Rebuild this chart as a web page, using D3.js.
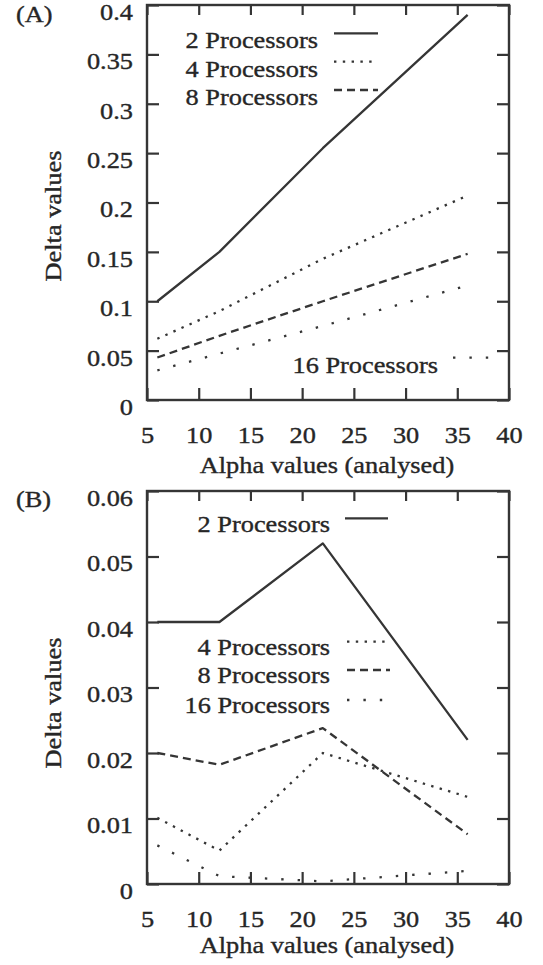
<!DOCTYPE html>
<html><head><meta charset="utf-8">
<script src="https://cdn.jsdelivr.net/npm/d3@7"></script>
<style>
body{margin:0;background:#fff}
text{font-family:"Liberation Serif","DejaVu Serif",serif;font-size:22.5px;fill:#262626;stroke:#262626;stroke-width:0.35px}
</style>
</head><body>
<svg id="c" width="543" height="965"></svg>
<script>
// ---- data ----
const alphaValues = [6, 12, 22, 36];
const seriesNames = ["2 Processors", "4 Processors", "8 Processors", "16 Processors"];
const deltaA_2  = [0.1, 0.15, 0.255, 0.39];
const deltaA_4  = [0.062, 0.09, 0.143, 0.207];
const deltaA_8  = [0.043, 0.065, 0.1, 0.148];
const deltaA_16 = [0.03, 0.047, 0.075, 0.116];
const deltaB_2  = [0.04, 0.04, 0.052, 0.022];
const deltaB_4  = [0.0101, 0.0051, 0.020, 0.0133];
const deltaB_8  = [0.020, 0.0182, 0.0238, 0.0076];
const deltaB_16 = [0.0059, 0.0012, 0.0004, 0.002];
const xTicks = [5, 10, 15, 20, 25, 30, 35, 40];
const yTicksA = [0, 0.05, 0.1, 0.15, 0.2, 0.25, 0.3, 0.35, 0.4];
const yTickLabelsA = ["0", "0.05", "0.1", "0.15", "0.2", "0.25", "0.3", "0.35", "0.4"];
const yTicksB = [0, 0.01, 0.02, 0.03, 0.04, 0.05, 0.06];
const yTickLabelsB = ["0", "0.01", "0.02", "0.03", "0.04", "0.05", "0.06"];
const xTitle = "Alpha values (analysed)";
const yTitle = "Delta values";

// ---- styles ----
const ink = "#353535";
const dash = ["", "2.4 6.4", "8 5", "2.4 14"];

const svg = d3.select("#c");
svg.append("rect").attr("width", 543).attr("height", 965).attr("fill", "#fff");

const x = d3.scaleLinear().domain([5, 40]).range([147, 509]);

const panels = [
  { tag: "(A)", tagY: 21.5, top: 5, bottom: 400, yMax: 0.4, ticks: yTicksA, labels: yTickLabelsA,
    series: [deltaA_2, deltaA_4, deltaA_8, deltaA_16], yTitleC: 216, xTitleY: 473,
    legend: [ {tx: 318, ty: 48, x0: 334, x1: 378, ly: 33.3},
              {tx: 318, ty: 76.7, x0: 334, x1: 378, ly: 61.7},
              {tx: 318, ty: 105, x0: 334, x1: 378, ly: 90},
              {tx: 438, ty: 373, x0: 453, x1: 494, ly: 357.7} ] },
  { tag: "(B)", tagY: 506.5, top: 491, bottom: 884, yMax: 0.06, ticks: yTicksB, labels: yTickLabelsB,
    series: [deltaB_2, deltaB_4, deltaB_8, deltaB_16], yTitleC: 703, xTitleY: 953,
    legend: [ {tx: 330, ty: 531.7, x0: 345, x1: 388, ly: 518.3},
              {tx: 330, ty: 655, x0: 347, x1: 390, ly: 641.7},
              {tx: 330, ty: 683.3, x0: 347, x1: 390, ly: 670},
              {tx: 330, ty: 713.3, x0: 347, x1: 390, ly: 700} ] }
];

panels.forEach(p => {
  const y = d3.scaleLinear().domain([0, p.yMax]).range([p.bottom, p.top]);
  const g = svg.append("g");

  // axes with inward ticks on all sides
  const bottomAx = g.append("g").attr("transform", `translate(0,${p.bottom})`)
    .call(d3.axisBottom(x).tickValues(xTicks).tickSizeInner(-12).tickSizeOuter(0).tickPadding(27).tickFormat(d3.format("d")));
  const topAx = g.append("g").attr("transform", `translate(0,${p.top})`)
    .call(d3.axisTop(x).tickValues(xTicks).tickSizeInner(-10).tickSizeOuter(0).tickFormat(""));
  const leftAx = g.append("g").attr("transform", `translate(${x.range()[0]},0)`)
    .call(d3.axisLeft(y).tickValues(p.ticks).tickSizeInner(-12).tickSizeOuter(0).tickPadding(14)
      .tickFormat((d, i) => p.labels[i]));
  const rightAx = g.append("g").attr("transform", `translate(${x.range()[1]},0)`)
    .call(d3.axisRight(y).tickValues(p.ticks).tickSizeInner(-12).tickSizeOuter(0).tickFormat(""));
  [bottomAx, topAx, leftAx, rightAx].forEach(a => {
    a.attr("font-family", null).attr("font-size", null);
    a.select(".domain").remove();
    a.selectAll("line").attr("stroke", ink).attr("stroke-width", 2.2);
    a.selectAll("text").attr("fill", null);
  });
  leftAx.selectAll("text").attr("dy", "0.64em");
  bottomAx.selectAll("text").attr("dy", "0.71em");

  // frame
  g.append("rect").attr("x", x.range()[0]).attr("y", p.top)
    .attr("width", x.range()[1] - x.range()[0]).attr("height", p.bottom - p.top)
    .attr("fill", "none").attr("stroke", ink).attr("stroke-width", 2.4);

  // series
  const line = d3.line().x((d, i) => x(alphaValues[i])).y(d => y(d));
  p.series.forEach((s, k) => {
    g.append("path").attr("d", line(s)).attr("fill", "none").attr("stroke", ink)
      .attr("stroke-width", 2.3).attr("stroke-dasharray", dash[k] || null)
      .attr("stroke-linejoin", "round");
  });

  // legend
  p.legend.forEach((L, k) => {
    g.append("text").attr("x", L.tx).attr("y", L.ty).attr("text-anchor", "end").text(seriesNames[k]);
    g.append("line").attr("x1", L.x0).attr("x2", L.x1).attr("y1", L.ly).attr("y2", L.ly)
      .attr("stroke", ink).attr("stroke-width", 2.3).attr("stroke-dasharray", dash[k] || null);
  });

  // titles
  g.append("text").attr("x", 16).attr("y", p.tagY).text(p.tag);
  g.append("text").attr("transform", `translate(61,${p.yTitleC}) rotate(-90)`)
    .attr("text-anchor", "middle").text(yTitle);
  g.append("text").attr("x", 327).attr("y", p.xTitleY).attr("text-anchor", "middle").text(xTitle);
});

// widen glyphs horizontally like the scanned original
svg.selectAll("text").each(function () {
  const w = this.getComputedTextLength();
  if (w > 0) {
    this.setAttribute("textLength", (w * 1.17).toFixed(1));
    this.setAttribute("lengthAdjust", "spacingAndGlyphs");
  }
});
</script>
</body></html>
